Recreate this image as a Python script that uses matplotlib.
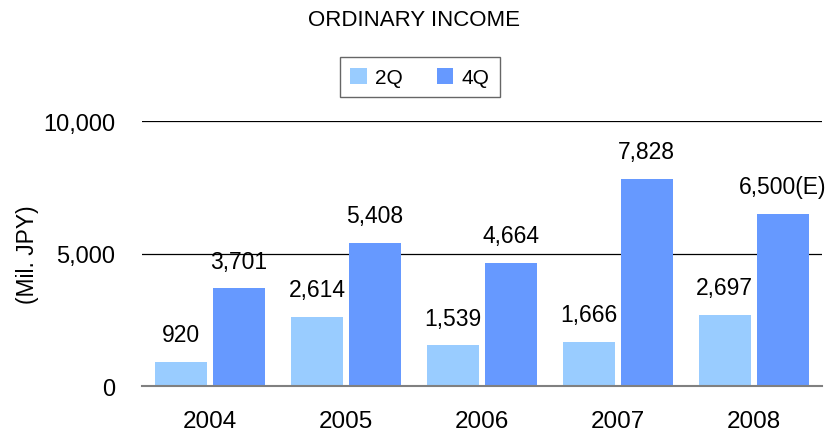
import matplotlib

matplotlib.use("Agg")

import matplotlib.pyplot as plt
import numpy as np

plt.rcParams["font.family"] = ["Liberation Sans", "DejaVu Sans"]

years = ["2004", "2005", "2006", "2007", "2008"]
q2_values = [920, 2614, 1539, 1666, 2697]
q4_values = [3701, 5408, 4664, 7828, 6500]
q2_labels = ["920", "2,614", "1,539", "1,666", "2,697"]
q4_labels = ["3,701", "5,408", "4,664", "7,828", "6,500(E)"]
y_ticks = [0, 5000, 10000]
y_tick_labels = ["0", "5,000", "10,000"]


def main():
    fig = plt.figure(figsize=(8.25, 4.35), dpi=100)
    ax = fig.add_axes([0.172, 0.110, 0.824, 0.609])

    x = np.arange(len(years))
    width = 0.38
    off = 0.213
    b2 = ax.bar(x - off, q2_values, width, color="#99CCFF", label="2Q", zorder=3)
    b4 = ax.bar(x + off, q4_values, width, color="#6699FF", label="4Q", zorder=3)

    for bars, labels in ((b2, q2_labels), (b4, q4_labels)):
        for rect, lab in zip(bars, labels):
            ax.annotate(
                lab,
                (rect.get_x() + rect.get_width() / 2, rect.get_height()),
                xytext=(0, 19.5),
                textcoords="offset points",
                ha="center",
                va="center",
                fontsize=16.5,
            )

    ax.set_xlim(-0.5, len(years) - 0.5)
    ax.set_ylim(0, 10000)
    ax.set_xticks(x)
    ax.set_xticklabels(years, fontsize=17.5)
    ax.set_yticks(y_ticks)
    ax.set_yticklabels(y_tick_labels, fontsize=17)
    ax.tick_params(axis="y", length=0, pad=19)
    ax.tick_params(axis="x", length=0, pad=17)

    for v in y_ticks[1:]:
        ax.axhline(v, color="black", linewidth=0.9, zorder=1)

    for name in ("top", "right", "left"):
        ax.spines[name].set_visible(False)
    ax.spines["bottom"].set_color("#808080")
    ax.spines["bottom"].set_linewidth(1.5)
    ax.spines["bottom"].set_zorder(4)

    ax.set_ylabel("(Mil. JPY)", fontsize=16.5, labelpad=3)

    fig.text(0.502, 0.953, "ORDINARY INCOME", ha="center", va="center", fontsize=16)

    fig.legend(
        handles=[b2, b4],
        loc="center",
        bbox_to_anchor=(0.509, 0.82),
        ncol=2,
        frameon=True,
        fancybox=False,
        edgecolor="#404040",
        fontsize=15,
        handlelength=0.8,
        handleheight=0.8,
        columnspacing=1.6,
        handletextpad=0.4,
        borderpad=0.5,
    )

    fig.savefig("out.png", dpi=100)
    plt.close(fig)


if __name__ == "__main__":
    main()
